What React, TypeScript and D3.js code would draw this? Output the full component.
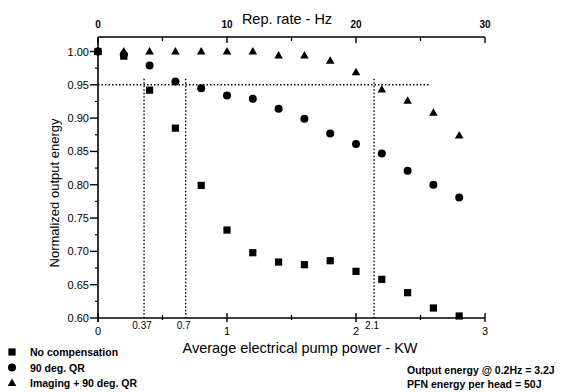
import React from "react";
import * as d3 from "d3";

// ---- data ----
const repRateHz = [0, 2, 4, 6, 8, 10, 12, 14, 16, 18, 20, 22, 24, 26, 28];
const noCompensation = [1.0, 0.993, 0.942, 0.885, 0.799, 0.732, 0.698, 0.684, 0.68, 0.686, 0.67, 0.658, 0.638, 0.615, 0.603];
const qr90 = [1.0, 0.995, 0.979, 0.955, 0.945, 0.934, 0.929, 0.914, 0.899, 0.877, 0.861, 0.847, 0.821, 0.8, 0.781];
const imagingQr90 = [1.0, 1.0, 1.0, 1.0, 1.0, 1.0, 1.0, 0.994, 0.994, 0.986, 0.969, 0.943, 0.926, 0.908, 0.874];

const topTicks = [0, 10, 20, 30];
const topMinor = [5, 15, 25];
const bottomTicks = [0, 1, 2, 3];
const bottomMinor = [0.5, 1.5, 2.5];
const yTicks = [0.6, 0.65, 0.7, 0.75, 0.8, 0.85, 0.9, 0.95, 1.0];
const guideKW = [0.357, 0.68, 2.14];
const guideLabels = ["0.37", "0.7", "2.1"];
const guideLevel = 0.95;
const guideEndKW = 2.57;

const legendItems = ["No compensation", "90 deg. QR", "Imaging + 90 deg. QR"];
const notes = ["Output energy @ 0.2Hz = 3.2J", "PFN energy per head = 50J"];

const W = 565;
const H = 392;
const font = "Liberation Sans, Arial, sans-serif";

function Marker({ kind, x, y }: { kind: number; x: number; y: number }) {
  if (kind === 0) return <rect x={x - 3.6} y={y - 3.6} width={7.2} height={7.2} fill="#000" />;
  if (kind === 1) return <circle cx={x} cy={y} r={4} fill="#000" />;
  const s = d3.symbol().type(d3.symbolTriangle).size(32)();
  return <path d={s || ""} transform={`translate(${x},${y + 0.5})`} fill="#000" />;
}

export default function App() {
  const hz = d3.scaleLinear().domain([0, 30]).range([98, 485]);
  const kw = d3.scaleLinear().domain([0, 3]).range([98, 485]);
  const y = d3.scaleLinear().domain([0.6, 1.0]).range([318, 51.5]);
  const yTop = y.invert(37);
  const yMinor = d3.range(0, 9).map((i) => 0.625 + i * 0.05).filter((v) => v < yTop);
  const series = [noCompensation, qr90, imagingQr90];

  return (
    <svg width={W} height={H} style={{ position: "absolute", left: 0, top: 0, background: "#fff" }} fontFamily={font}>
      <rect width={W} height={H} fill="#fff" />
      {/* top axis */}
      <line x1={hz(0)} x2={hz(30)} y1={y(yTop)} y2={y(yTop)} stroke="#000" strokeWidth={1.6} />
      {topTicks.map((t) => (
        <g key={"tt" + t}>
          <line x1={hz(t)} x2={hz(t)} y1={y(yTop)} y2={y(yTop) + 6} stroke="#000" strokeWidth={1.4} />
          <text x={hz(t)} y={28} textAnchor="middle" fontSize={10} fontWeight="bold">{t}</text>
        </g>
      ))}
      {topMinor.map((t) => (
        <line key={"tm" + t} x1={hz(t)} x2={hz(t)} y1={y(yTop)} y2={y(yTop) + 4} stroke="#000" strokeWidth={1.2} />
      ))}
      <text x={287} y={24} textAnchor="middle" fontSize={14.5}>Rep. rate - Hz</text>

      {/* left axis */}
      <line x1={98} x2={98} y1={y(yTop)} y2={y(0.6) + 4} stroke="#000" strokeWidth={1.6} />
      {yTicks.map((t) => (
        <g key={"yt" + t}>
          <line x1={90} x2={98} y1={y(t)} y2={y(t)} stroke="#000" strokeWidth={1.4} />
          <text x={89} y={y(t) + 4} textAnchor="end" fontSize={11}>{t.toFixed(2)}</text>
        </g>
      ))}
      {yMinor.map((t) => (
        <line key={"ym" + t} x1={95} x2={98} y1={y(t)} y2={y(t)} stroke="#000" strokeWidth={1.2} />
      ))}
      <text transform={`translate(59,193) rotate(-90)`} textAnchor="middle" fontSize={13}>Normalized output energy</text>

      {/* bottom axis */}
      <line x1={kw(0)} x2={kw(3)} y1={y(0.6)} y2={y(0.6)} stroke="#000" strokeWidth={1.6} />
      {bottomTicks.map((t) => (
        <g key={"bt" + t}>
          <line x1={kw(t)} x2={kw(t)} y1={y(0.6) - 5} y2={y(0.6) + 4} stroke="#000" strokeWidth={1.4} />
          <text x={kw(t)} y={335} textAnchor="middle" fontSize={11}>{t}</text>
        </g>
      ))}
      {bottomMinor.map((t) => (
        <line key={"bm" + t} x1={kw(t)} x2={kw(t)} y1={y(0.6) - 3} y2={y(0.6) + 2} stroke="#000" strokeWidth={1.2} />
      ))}
      <text x={300} y={353} textAnchor="middle" fontSize={14.5}>Average electrical pump power - KW</text>

      {/* guide lines */}
      <line x1={kw(0)} x2={kw(guideEndKW)} y1={y(guideLevel)} y2={y(guideLevel)} stroke="#000" strokeWidth={1.4} strokeDasharray="1.5 2" />
      {guideKW.map((g, i) => (
        <g key={"g" + i}>
          <line x1={kw(g)} x2={kw(g)} y1={y(guideLevel) - 6} y2={y(0.6)} stroke="#000" strokeWidth={1.4} strokeDasharray="1.5 2" />
          <text x={kw(g) - 2} y={329} textAnchor="middle" fontSize={10}>{guideLabels[i]}</text>
        </g>
      ))}

      {/* data */}
      {series.map((s, k) =>
        s.map((v, i) => <Marker key={`m${k}-${i}`} kind={k} x={hz(repRateHz[i])} y={y(v)} />)
      )}

      {/* legend */}
      {legendItems.map((l, i) => (
        <g key={"l" + i}>
          <Marker kind={i} x={12} y={352 + i * 15.5} />
          <text x={30} y={356 + i * 15.5} fontSize={10.5} fontWeight="bold">{l}</text>
        </g>
      ))}
      {notes.map((n, i) => (
        <text key={"n" + i} x={407} y={374 + i * 14} fontSize={10.5} fontWeight="bold">{n}</text>
      ))}
    </svg>
  );
}
